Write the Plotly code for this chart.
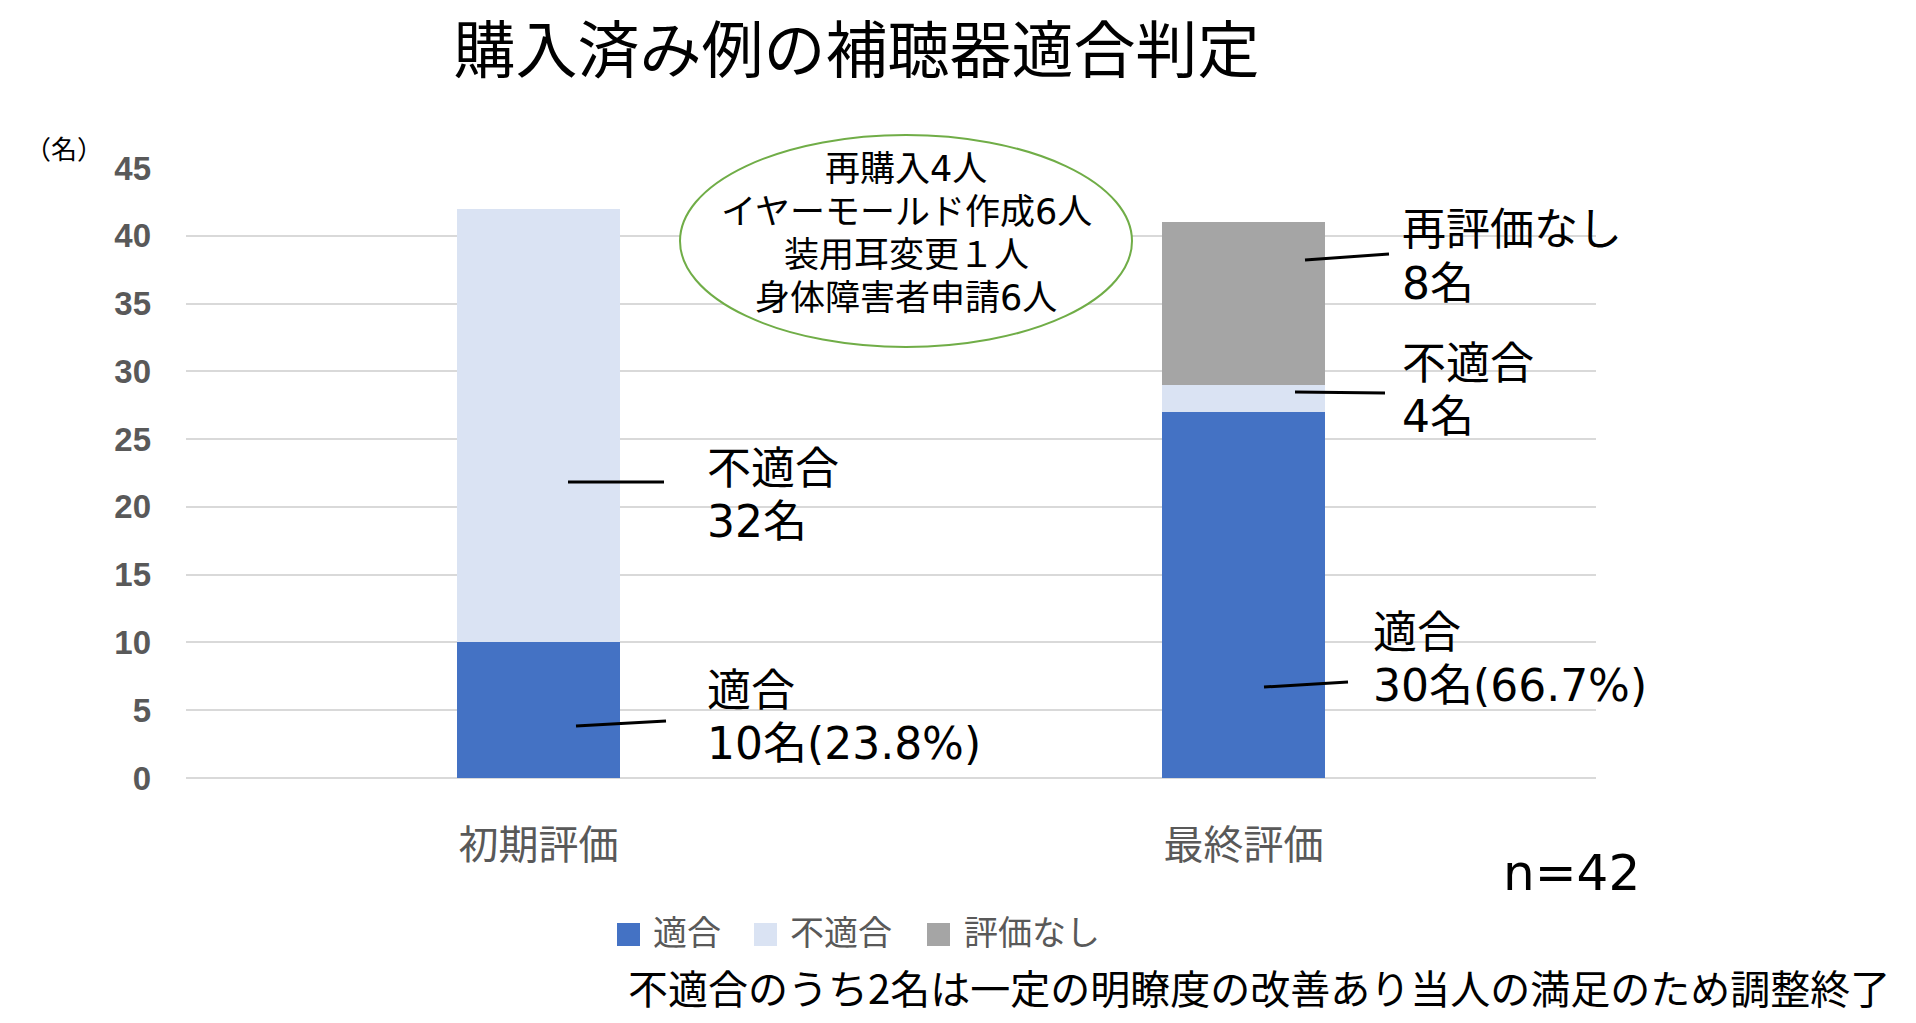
import plotly.graph_objects as go

# ---- data ----
categories = ["初期評価", "最終評価"]
series_names = ["適合", "不適合", "評価なし"]
fit_values = [10, 27]
unfit_values = [32, 2]
noeval_values = [0, 12]
colors = ["#4472C4", "#DAE3F3", "#A5A5A5"]
y_ticks = [0, 5, 10, 15, 20, 25, 30, 35, 40, 45]

title_text = "購入済み例の補聴器適合判定"
ellipse_lines = ["再購入4人", "イヤーモールド作成6人", "装用耳変更１人", "身体障害者申請6人"]
label_lines = [["不適合", "32名"], ["適合", "10名(23.8%)"], ["再評価なし", "8名"], ["不適合", "4名"],
               ["適合", "30名(66.7%)"]]
note_text = "不適合のうち2名は一定の明瞭度の改善あり当人の満足のため調整終了"
n_text = "n=42"
unit_text = "（名）"

W, H = 1916, 1023
L, R, T, B = 186, 320, 168, 245
plot_w = W - L - R
plot_h = H - T - B
YMAX = 45


def px2x(px):
    return (px - L) / (plot_w / 2) - 0.5


def py2y(py):
    return (H - B - py) / (plot_h / YMAX)


def ppx(px):
    return (px - L) / plot_w


def ppy(py):
    return (H - B - py) / plot_h


JP = "Noto Sans CJK JP"
MIX = "DejaVu Sans, Noto Sans CJK JP"

fig = go.Figure()
for name, vals, col in zip(series_names, [fit_values, unfit_values, noeval_values], colors):
    fig.add_trace(go.Bar(x=categories, y=vals, name=name, marker=dict(color=col, line=dict(width=0)),
                         width=0.23))

fig.update_layout(
    barmode="stack",
    width=W, height=H,
    margin=dict(l=L, r=R, t=T, b=B),
    paper_bgcolor="white", plot_bgcolor="white",
    showlegend=False,
    title=dict(text=title_text, x=701 * 1916 / 1568 / W, y=1 - 51 / H, xanchor="center", yanchor="middle",
               xref="container", yref="container",
               font=dict(family=JP, size=62, color="black")),
)

fig.update_xaxes(range=[-0.5, 1.5], showline=False, ticks="", showgrid=False,
                 tickfont=dict(family=JP, size=40, color="#595959"), ticklabelstandoff=40)
fig.update_yaxes(range=[0, YMAX], tickvals=y_ticks, showgrid=True, gridcolor="#D9D9D9", gridwidth=1.5,
                 zeroline=True, zerolinecolor="#D9D9D9", zerolinewidth=1.5, showline=False, ticks="",
                 tickfont=dict(family="Liberation Sans", size=33, color="#595959", weight="bold"),
                 ticklabelstandoff=34)

# ellipse callout
fig.add_shape(type="circle", xref="paper", yref="paper",
              x0=ppx(680), x1=ppx(1132), y0=ppy(347), y1=ppy(135),
              line=dict(color="#70AD47", width=2), fillcolor="white", layer="above")
for i, line in enumerate(ellipse_lines):
    fig.add_annotation(xref="paper", yref="paper", x=ppx(906), y=ppy(169 + i * 43), text=line,
                       showarrow=False, xanchor="center", yanchor="middle",
                       font=dict(family=MIX, size=35, color="black"))

# leader lines
leaders = [((568, 482), (664, 482)), ((576, 726), (666, 721)), ((1305, 260), (1389, 254)),
           ((1295, 392), (1385, 393)), ((1264, 687), (1348, 682))]
for (a, b) in leaders:
    fig.add_shape(type="line", xref="x", yref="y", x0=px2x(a[0]), y0=py2y(a[1]), x1=px2x(b[0]), y1=py2y(b[1]),
                  line=dict(color="black", width=3), layer="above")

label_pos = [(705, 468), (705, 690), (1400, 230), (1400, 363), (1371, 632)]
for lines, (px, py) in zip(label_lines, label_pos):
    for j, line in enumerate(lines):
        fig.add_annotation(xref="paper", yref="paper", x=ppx(px), y=ppy(py + j * 53), text=line,
                           showarrow=False, xanchor="left", yanchor="middle",
                           font=dict(family=MIX, size=44, color="black"))

# manual legend
legend_swatch_x = [617, 754, 927]
legend_text_x = [651, 788, 962]
for name, col, sx, tx in zip(series_names, colors, legend_swatch_x, legend_text_x):
    fig.add_shape(type="rect", xref="paper", yref="paper", x0=ppx(sx), x1=ppx(sx + 23),
                  y0=ppy(946), y1=ppy(923), fillcolor=col, line=dict(width=0))
    fig.add_annotation(xref="paper", yref="paper", x=ppx(tx), y=ppy(930), text=name, showarrow=False,
                       xanchor="left", yanchor="middle", font=dict(family=JP, size=34, color="#595959"))

# unit label
fig.add_annotation(xref="paper", yref="paper", x=ppx(64), y=ppy(147), text=unit_text, showarrow=False,
                   xanchor="center", yanchor="middle", font=dict(family=JP, size=26, color="black"))
# n=42
fig.add_annotation(xref="paper", yref="paper", x=ppx(1501), y=ppy(873), text=n_text, showarrow=False,
                   xanchor="left", yanchor="middle", font=dict(family=MIX, size=50, color="black"))
# note
fig.add_annotation(xref="paper", yref="paper", x=ppx(626), y=ppy(987), text=note_text, showarrow=False,
                   xanchor="left", yanchor="middle", font=dict(family=JP, size=40, color="black"))

fig.write_html("out.html")
